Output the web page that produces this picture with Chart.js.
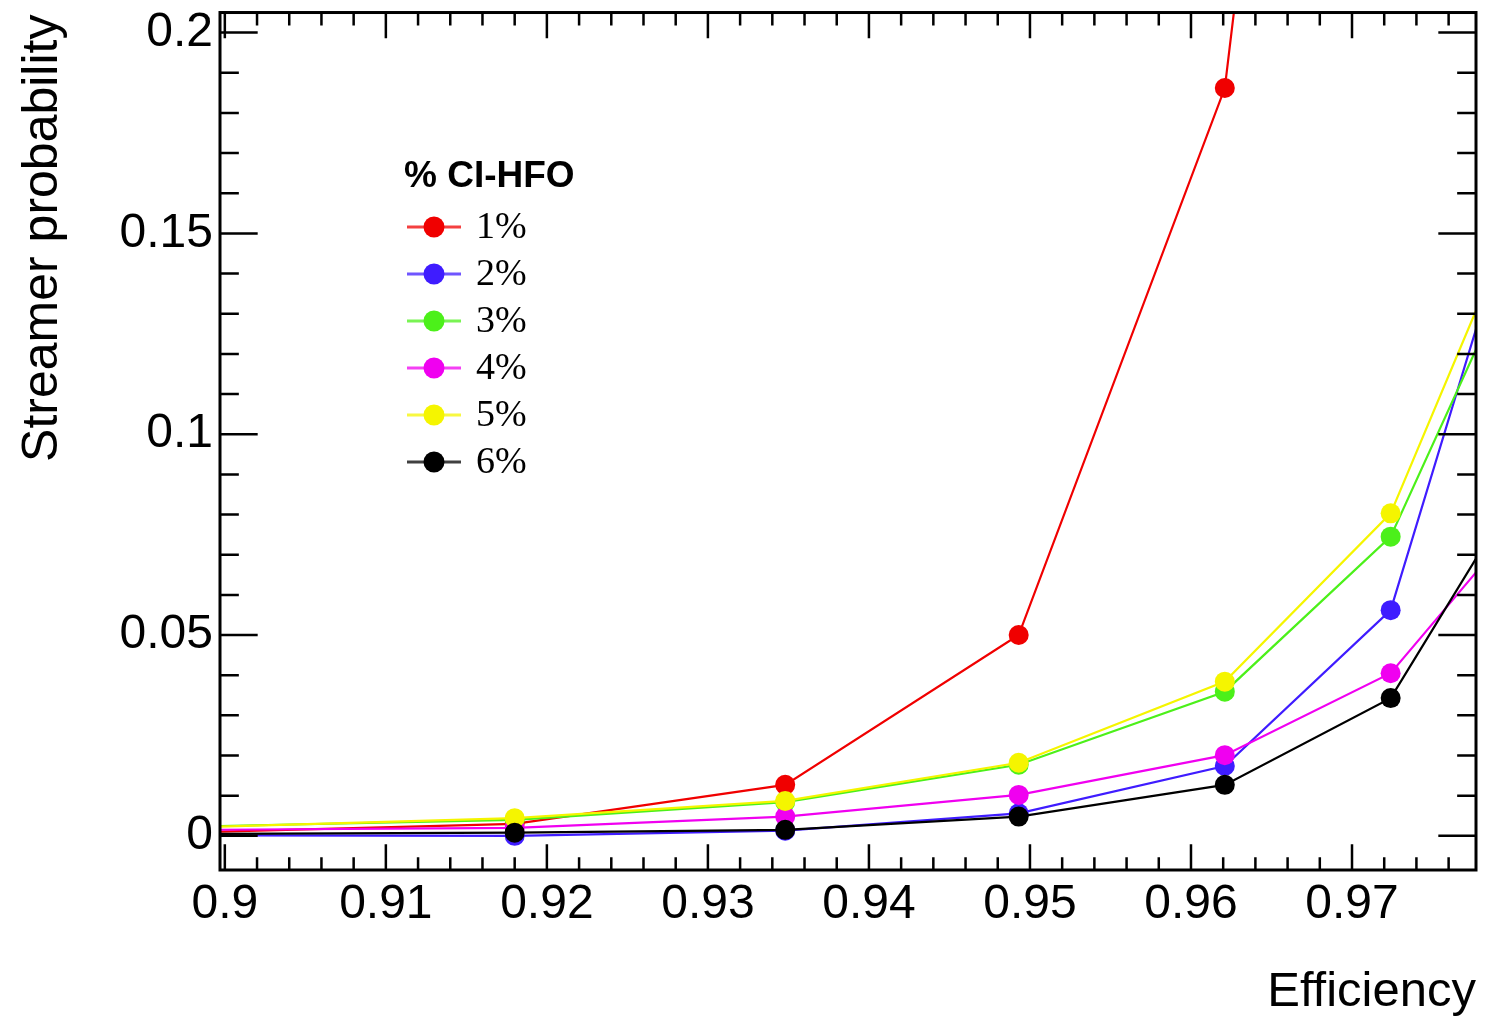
<!DOCTYPE html>
<html>
<head>
<meta charset="utf-8">
<script src="https://cdn.jsdelivr.net/npm/chart.js@4/dist/chart.umd.min.js"></script>
<style>
  html, body { margin: 0; padding: 0; background: #fff; }
  #wrap { width: 1486px; height: 1020px; }
</style>
</head>
<body>
<div id="wrap"><canvas id="chart" width="1486" height="1020"></canvas></div>
<script>
// values
const efficiency = [0.899, 0.9180, 0.9348, 0.9493, 0.9621, 0.9724, 0.980]
const hfo1 = [0.0010, 0.0030, 0.0127, 0.0500, 0.1862, 0.530, null]
const hfo2 = [0.0001, 0.0000, 0.0013, 0.0056, 0.0174, 0.0562, 0.1565]
const hfo3 = [0.0024, 0.0040, 0.0084, 0.0177, 0.0359, 0.0745, 0.1413]
const hfo4 = [0.0015, 0.0020, 0.0048, 0.0102, 0.0201, 0.0405, 0.0765]
const hfo5 = [0.0022, 0.0044, 0.0087, 0.0182, 0.0384, 0.0803, 0.1527]
const hfo6 = [0.0005, 0.0008, 0.0015, 0.0048, 0.0127, 0.0343, 0.0841]

const seriesNames = ['1%', '2%', '3%', '4%', '5%', '6%']
const seriesValues = [hfo1, hfo2, hfo3, hfo4, hfo5, hfo6]
const seriesColors = ['#f00000', '#3f1cff', '#4cf01a', '#f000f0', '#f5f500', '#000000']

const xMajor = [0.90, 0.91, 0.92, 0.93, 0.94, 0.95, 0.96, 0.97]
const yMajor = [0, 0.05, 0.10, 0.15, 0.20]
const xLabels = ['0.9', '0.91', '0.92', '0.93', '0.94', '0.95', '0.96', '0.97']
const yLabels = ['0', '0.05', '0.1', '0.15', '0.2']
const xMinorStep = 0.002
const yMinorStep = 0.01

const sans = "'Liberation Sans', Arial, Helvetica, sans-serif"
const serif = "'Liberation Serif', 'Times New Roman', serif"

const datasets = seriesValues.map((vals, i) => ({
  label: seriesNames[i],
  data: efficiency.map((x, j) => ({ x, y: vals[j] })),
  showLine: true,
  borderColor: seriesColors[i],
  backgroundColor: seriesColors[i],
  borderWidth: 2.2,
  pointRadius: 10,
  pointBorderWidth: 0,
  pointHoverRadius: 10,
  clip: 0,
  order: seriesNames.length - i
}))

// ROOT style frame with inward ticks on all four sides
const framePlugin = {
  id: 'frame',
  afterDraw(chart) {
    const { ctx, chartArea: a, scales } = chart
    const xs = scales.x, ys = scales.y
    const w = a.right - a.left, h = a.bottom - a.top
    ctx.save()
    ctx.strokeStyle = '#000'
    ctx.lineWidth = 2.5
    ctx.beginPath()
    const tick = (x1, y1, x2, y2) => { ctx.moveTo(x1, y1); ctx.lineTo(x2, y2) }
    for (let v = xMajor[0]; v <= xs.max + 1e-9; v += xMinorStep) {
      const major = Math.abs(Math.round(v * 100) - v * 100) < 1e-6
      const len = major ? h * 0.03 : h * 0.015
      const px = xs.getPixelForValue(v)
      tick(px, a.bottom, px, a.bottom - len)
      tick(px, a.top, px, a.top + len)
    }
    for (let v = yMajor[0]; v <= ys.max + 1e-9; v += yMinorStep) {
      const major = Math.abs(Math.round(v * 20) - v * 20) < 1e-6
      const len = major ? w * 0.03 : w * 0.015
      const py = ys.getPixelForValue(v)
      tick(a.left, py, a.left + len, py)
      tick(a.right, py, a.right - len, py)
    }
    ctx.stroke()
    ctx.lineWidth = 3
    ctx.strokeRect(a.left, a.top, w, h)

    // axis titles
    ctx.fillStyle = '#000'
    ctx.font = '49px ' + sans
    ctx.textAlign = 'right'
    ctx.textBaseline = 'alphabetic'
    ctx.fillText('Efficiency', a.right, 1006)
    ctx.save()
    ctx.translate(57, a.top + 2)
    ctx.rotate(-Math.PI / 2)
    ctx.font = '50px ' + sans
    ctx.textAlign = 'right'
    ctx.fillText('Streamer probability', 0, 0)
    ctx.restore()
    ctx.restore()
  }
}

// legend inside the frame
const legendPlugin = {
  id: 'rootLegend',
  afterDraw(chart) {
    const { ctx, chartArea: a } = chart
    const left = a.left + 184
    ctx.save()
    ctx.fillStyle = '#000'
    ctx.font = 'bold 37px ' + sans
    ctx.textAlign = 'left'
    ctx.textBaseline = 'middle'
    ctx.fillText('% CI-HFO', left, 177)
    seriesNames.forEach((name, i) => {
      const y = 227 + i * 47
      ctx.strokeStyle = seriesColors[i]
      ctx.globalAlpha = 0.75
      ctx.lineWidth = 3
      ctx.beginPath()
      ctx.moveTo(left + 3, y)
      ctx.lineTo(left + 57, y)
      ctx.stroke()
      ctx.globalAlpha = 1
      ctx.fillStyle = seriesColors[i]
      ctx.beginPath()
      ctx.arc(left + 30, y, 10.5, 0, Math.PI * 2)
      ctx.fill()
      ctx.fillStyle = '#000'
      ctx.font = '38px ' + serif
      ctx.fillText(name, left + 72, y + 1)
    })
    ctx.restore()
  }
}

new Chart(document.getElementById('chart').getContext('2d'), {
  type: 'scatter',
  data: { datasets },
  plugins: [framePlugin, legendPlugin],
  options: {
    responsive: false,
    animation: false,
    events: [],
    layout: { padding: { left: 0, top: 4, right: 8, bottom: 0 } },
    plugins: { legend: { display: false }, tooltip: { enabled: false } },
    scales: {
      x: {
        type: 'linear',
        min: 0.8997,
        max: 0.9777,
        grid: { display: false, drawTicks: false },
        border: { display: false },
        afterBuildTicks: s => { s.ticks = xMajor.map(value => ({ value })) },
        afterFit: s => { s.height = 150 },
        ticks: {
          padding: 6,
          maxRotation: 0,
          autoSkip: false,
          color: '#000',
          font: { family: sans, size: 48 },
          callback: (v, i) => xLabels[i]
        }
      },
      y: {
        type: 'linear',
        min: -0.0085,
        max: 0.205,
        grid: { display: false, drawTicks: false },
        border: { display: false },
        afterBuildTicks: s => { s.ticks = yMajor.map(value => ({ value })) },
        afterFit: s => { s.width = 220 },
        ticks: {
          padding: 7,
          autoSkip: false,
          color: '#000',
          font: { family: sans, size: 48, lineHeight: 0.23 },
          callback: (v, i) => yLabels[i]
        }
      }
    }
  }
})
</script>
</body>
</html>
